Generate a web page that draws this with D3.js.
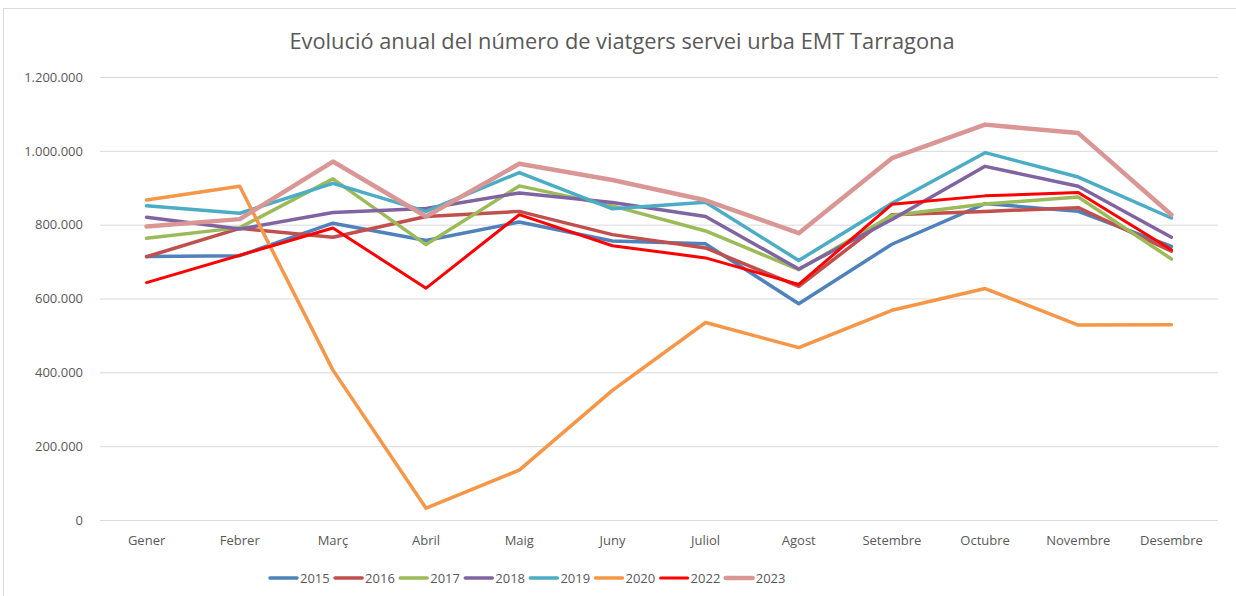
<!DOCTYPE html>
<html>
<head>
<meta charset="utf-8">
<script src="https://cdn.jsdelivr.net/npm/d3@7"></script>
<style>
  body { margin: 0; background: #fff; }
  text { font-family: "Open Sans", "Noto Sans", sans-serif; fill: #595959; }
</style>
</head>
<body>
<div id="chart"></div>
<script>
// month labels and the series, values in thousands of travellers
var months = ["Gener", "Febrer", "Març", "Abril", "Maig", "Juny", "Juliol", "Agost", "Setembre", "Octubre", "Novembre", "Desembre"];
var years = ["2015", "2016", "2017", "2018", "2019", "2020", "2022", "2023"];
var y2015 = [714, 716, 804, 757, 807, 756, 748, 586, 747, 857, 836, 741];
var y2016 = [713, 790, 766, 822, 836, 773, 737, 633, 827, 836, 846, 728];
var y2017 = [763, 792, 924, 746, 905, 851, 783, 678, 825, 856, 875, 707];
var y2018 = [820, 788, 833, 844, 886, 860, 822, 680, 814, 958, 904, 766];
var y2019 = [851, 831, 912, 836, 941, 843, 861, 703, 858, 995, 929, 818];
var y2020 = [867, 904, 406, 32, 135, 351, 535, 467, 568, 627, 528, 529];
var y2022 = [643, 717, 791, 628, 827, 743, 710, 638, 855, 878, 887, 732];
var y2023 = [795, 815, 971, 822, 965, 921, 866, 777, 980, 1071, 1048, 827];
var yTicks = [0, 200000, 400000, 600000, 800000, 1000000, 1200000];

var seriesValues = [y2015, y2016, y2017, y2018, y2019, y2020, y2022, y2023];
var colors = ["#4F81BD", "#C0504D", "#9BBB59", "#8064A2", "#4BACC6", "#F79646", "#FF0000", "#D99694"];
var widths = [3.5, 3.5, 3.5, 3.5, 3.5, 3.5, 3, 4.5];

var svgWidth = 1236;
var svgHeight = 596;
var margin = { top: 77, right: 18, bottom: 76, left: 100 };
var width = svgWidth - margin.left - margin.right;
var height = svgHeight - margin.top - margin.bottom;

var svg = d3.select("#chart")
  .append("svg")
  .attr("width", svgWidth)
  .attr("height", svgHeight);

// chart area border
svg.append("rect")
  .attr("x", 3.5)
  .attr("y", 8.5)
  .attr("width", 1250)
  .attr("height", 620)
  .attr("fill", "none")
  .attr("stroke", "#d9d9d9");

svg.append("text")
  .attr("x", 622)
  .attr("y", 49)
  .attr("text-anchor", "middle")
  .style("font-size", "21.8px")
  .text("Evolució anual del número de viatgers servei urba EMT Tarragona");

var chartGroup = svg.append("g")
  .attr("transform", `translate(${margin.left}, ${margin.top})`);

var xScale = d3.scaleBand()
  .domain(months)
  .range([0, width]);

var yScale = d3.scaleLinear()
  .domain([0, 1200000])
  .range([height, 0]);

var fmt = d3.formatLocale({ decimal: ",", thousands: ".", grouping: [3], currency: ["", "€"] }).format(",");

// gridlines + y labels
var leftAxis = d3.axisLeft(yScale)
  .tickValues(yTicks)
  .tickSize(-width)
  .tickPadding(17)
  .tickFormat(fmt);

var yAxis = chartGroup.append("g").call(leftAxis);
yAxis.select(".domain").remove();
yAxis.selectAll(".tick line").attr("stroke", "#d9d9d9").attr("stroke-width", 1);
yAxis.selectAll(".tick text").style("font-size", "13px").style("fill", "#595959");

var bottomAxis = d3.axisBottom(xScale).tickSize(0).tickPadding(16);
var xAxis = chartGroup.append("g")
  .attr("transform", `translate(0, ${height})`)
  .call(bottomAxis);
xAxis.select(".domain").remove();
xAxis.selectAll(".tick text").style("font-size", "13px").style("fill", "#595959");

var line = d3.line()
  .x(function(d, i) { return xScale(months[i]) + xScale.bandwidth() / 2; })
  .y(function(d) { return yScale(d * 1000); });

seriesValues.forEach(function(vals, i) {
  chartGroup.append("path")
    .datum(vals)
    .attr("fill", "none")
    .attr("stroke", colors[i])
    .attr("stroke-width", widths[i])
    .attr("stroke-linejoin", "round")
    .attr("stroke-linecap", "round")
    .attr("d", line);
});

// legend
var legend = svg.append("g").attr("transform", "translate(270, 578)");
years.forEach(function(yr, i) {
  var g = legend.append("g").attr("transform", `translate(${i * 65.1}, 0)`);
  g.append("line")
    .attr("x1", 0).attr("x2", 27)
    .attr("y1", 0).attr("y2", 0)
    .attr("stroke", colors[i])
    .attr("stroke-width", widths[i])
    .attr("stroke-linecap", "round");
  g.append("text")
    .attr("x", 30)
    .attr("y", 5)
    .style("font-size", "13px")
    .text(yr);
});
</script>
</body>
</html>
